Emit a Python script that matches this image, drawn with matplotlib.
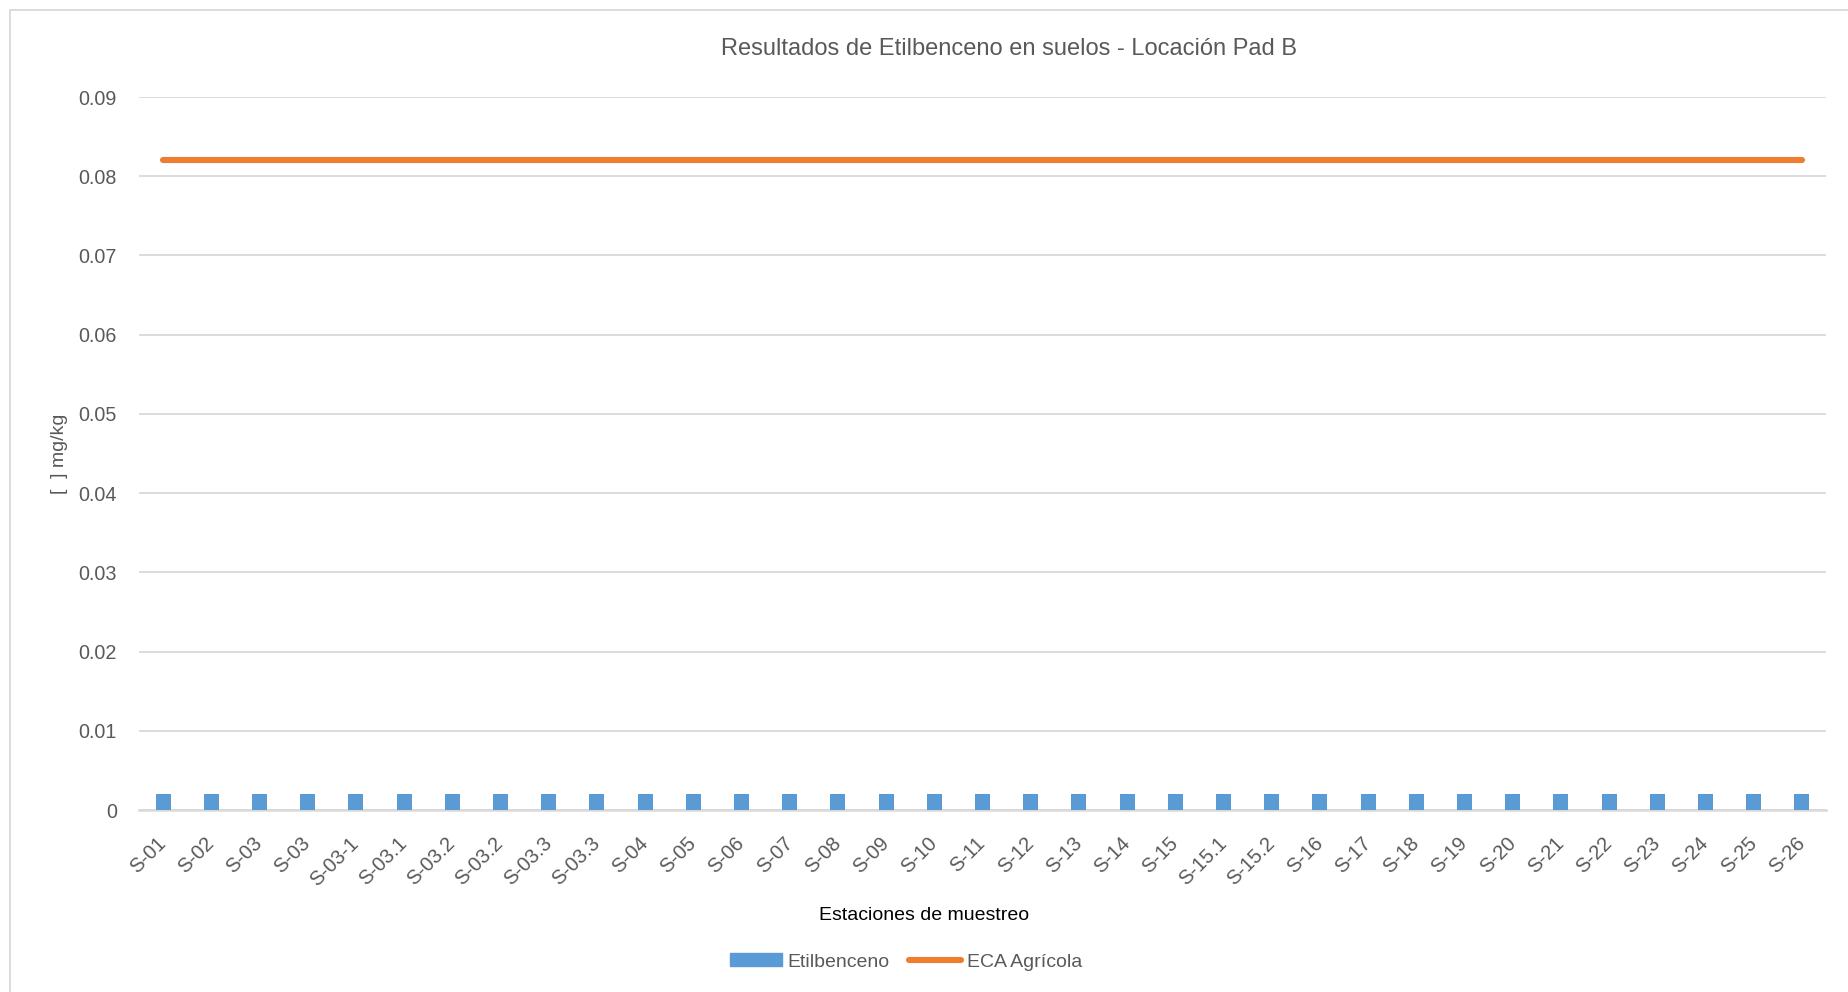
import matplotlib
matplotlib.use("Agg")
from matplotlib import pyplot as plt
from matplotlib.lines import Line2D
from matplotlib.patches import Patch
import numpy as np

plt.rcParams['font.family'] = ['Liberation Sans', 'DejaVu Sans']

## estaciones de muestreo
estaciones = ['S-01', 'S-02', 'S-03', 'S-03', 'S-03-1', 'S-03.1', 'S-03.2', 'S-03.2',
              'S-03.3', 'S-03.3', 'S-04', 'S-05', 'S-06', 'S-07', 'S-08', 'S-09',
              'S-10', 'S-11', 'S-12', 'S-13', 'S-14', 'S-15', 'S-15.1', 'S-15.2',
              'S-16', 'S-17', 'S-18', 'S-19', 'S-20', 'S-21', 'S-22', 'S-23',
              'S-24', 'S-25', 'S-26']
## resultados de etilbenceno (mg/kg)
etilbenceno = [0.002] * len(estaciones)
## estandar de calidad ambiental, uso agricola
eca_agricola = [0.082] * len(estaciones)
yticks = [0, 0.01, 0.02, 0.03, 0.04, 0.05, 0.06, 0.07, 0.08, 0.09]
ytick_labels = ['0', '0.01', '0.02', '0.03', '0.04', '0.05', '0.06', '0.07', '0.08', '0.09']

gris = '#595959'
azul = '#5b9bd5'
naranja = '#ed7d31'

fig = plt.figure(figsize=(18.49, 9.92), dpi=100)
ax = fig.add_axes([139/1849, 1 - 810/992, (1826 - 139)/1849, (810 - 97)/992])

x = np.arange(len(estaciones))
ax.bar(x, etilbenceno, width=0.31, color=azul, zorder=3)
ax.plot(x, eca_agricola, color=naranja, linewidth=4.4, solid_capstyle='round', zorder=4)

ax.set_xlim(-0.5, len(estaciones) - 0.5)
ax.set_ylim(0, 0.09)
ax.set_yticks(yticks)
ax.set_yticklabels(ytick_labels)
ax.set_xticks(x)
ax.set_xticklabels(estaciones, rotation=45, ha='right', va='center', rotation_mode='anchor')

ax.grid(axis='y', color='#d9d9d9', linewidth=1.3, zorder=0)
for s in ['top', 'right', 'left']:
    ax.spines[s].set_visible(False)
ax.spines['bottom'].set_color('#d9d9d9')
ax.spines['bottom'].set_linewidth(1.8)
ax.tick_params(axis='y', length=0, pad=16, labelsize=14.2, labelcolor=gris)
ax.tick_params(axis='x', length=0, pad=22, labelsize=14.5, labelcolor=gris)

fig.text(1009/1849, 1 - 49/992, 'Resultados de Etilbenceno en suelos - Locación Pad B',
         ha='center', va='center', fontsize=17, color=gris)
fig.text(924/1849, 1 - 915/992, 'Estaciones de muestreo', ha='center', va='center',
         fontsize=14, color='black')
fig.text(59/1849, 1 - 454/992, '[  ] mg/kg', ha='center', va='center', rotation=90,
         fontsize=14, color=gris)

handles = [Patch(color=azul, label='Etilbenceno'),
           Line2D([], [], color=naranja, linewidth=4.4, solid_capstyle='round', label='ECA Agrícola')]
leg = fig.legend(handles=handles, loc='center', bbox_to_anchor=(906/1849, 1 - 962/992), ncol=2,
                 frameon=False, fontsize=14, handlelength=2.65, handletextpad=0.3,
                 columnspacing=1.0, handleheight=0.6)
for t in leg.get_texts():
    t.set_color(gris)

## marco del grafico
fig.add_artist(Line2D([10/1849, 10/1849], [0, 1 - 10/992], transform=fig.transFigure,
                      color='#d9d9d9', linewidth=1.3))
fig.add_artist(Line2D([10/1849, 1], [1 - 10/992, 1 - 10/992], transform=fig.transFigure,
                      color='#d9d9d9', linewidth=1.3))

fig.savefig('out.png', dpi=100)
